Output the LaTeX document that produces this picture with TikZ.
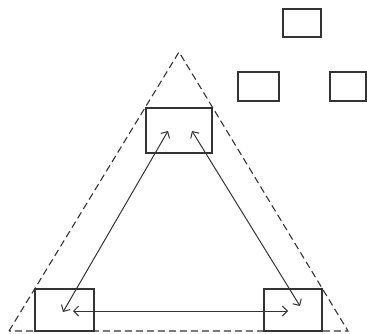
\documentclass[tikz,border=0pt]{standalone}
\usepackage{tikz}
\usetikzlibrary{arrows.meta}

\begin{document}
\begin{tikzpicture}[
    x=1pt, y=-1pt,
    >={Straight Barb[length=5pt, width=10pt]},
    % Group member boxes
    member/.style={
        rectangle, draw=black!80, line width=1.2pt, inner sep=0pt
    },
    % Outside boxes
    outsider/.style={
        rectangle, draw=black!80, line width=1.2pt, inner sep=0pt
    },
    % Boundary of the group
    bound/.style={black!80, line width=1.1pt, dash pattern=on 7pt off 4pt},
    % Two-way link
    link/.style={<->, black!80, line width=1pt},
]
\useasboundingbox (0,0) rectangle (367,334);

% ===== GROUP BOUNDARY =====
\coordinate (apex) at (179, 52);
\coordinate (base_l) at (9, 331);
\coordinate (base_r) at (348, 331);
\draw[bound] (base_l) -- (apex) -- (base_r) -- cycle;

% ===== MEMBERS =====
\node[member, minimum width=66pt, minimum height=45pt] (top) at (179, 130.5) {};
\node[member, minimum width=59pt, minimum height=42pt] (left) at (64.5, 310) {};
\node[member, minimum width=58pt, minimum height=42pt] (right) at (293, 310) {};

% ===== OUTSIDERS =====
\node[outsider, minimum width=38pt, minimum height=28pt] (out_top) at (302, 23) {};
\node[outsider, minimum width=41pt, minimum height=29pt] (out_left) at (258.5, 86.5) {};
\node[outsider, minimum width=36pt, minimum height=29pt] (out_right) at (348, 86.5) {};

% ===== LINKS =====
\coordinate (top_l) at (168, 131);
\coordinate (top_r) at (192, 131);
\coordinate (left_up) at (63, 312);
\coordinate (left_in) at (73, 311);
\coordinate (right_up) at (300, 306);
\coordinate (right_in) at (288, 311);

\draw[link] (left_up) -- (top_l);
\draw[link] (right_up) -- (top_r);
\draw[link] (left_in) -- (right_in);

\end{tikzpicture}
\end{document}
